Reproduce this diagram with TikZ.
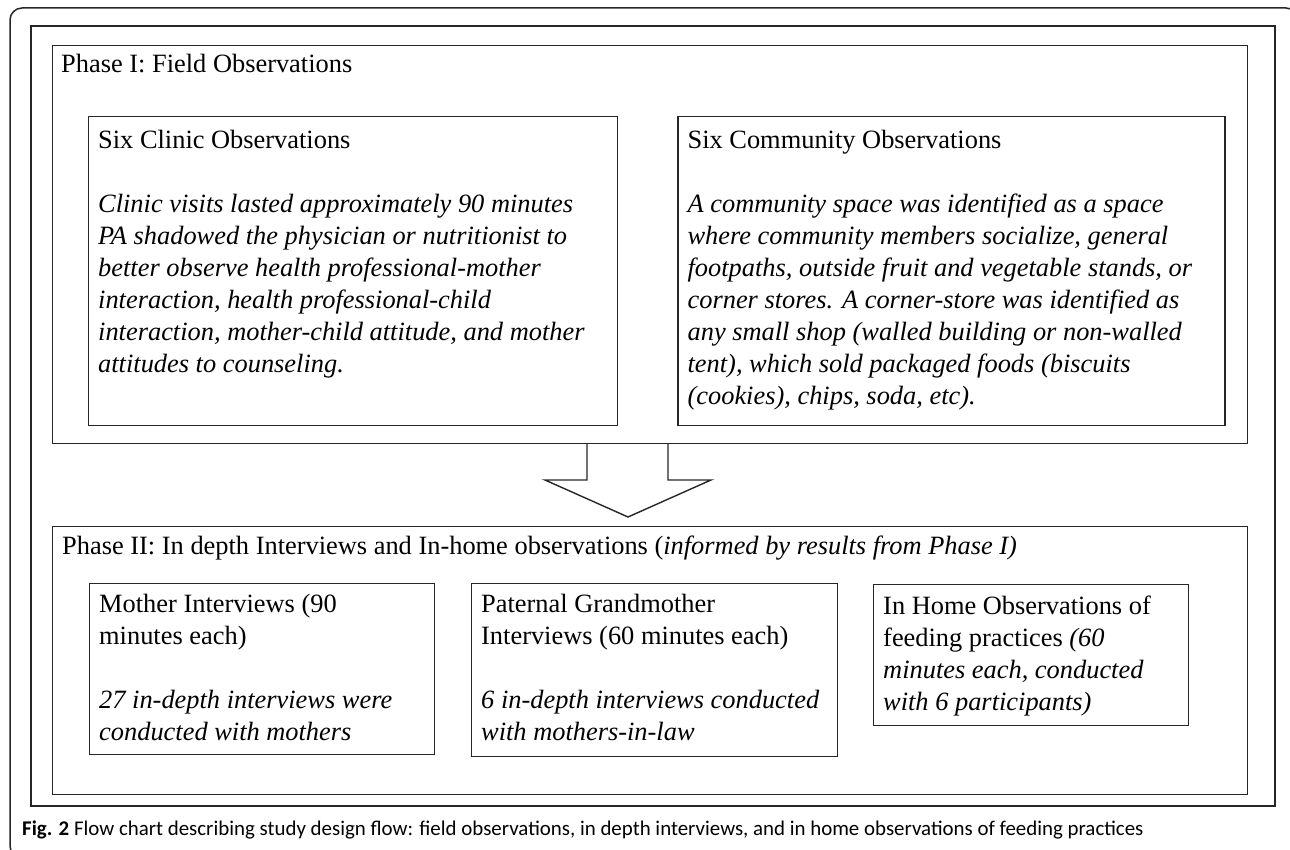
\documentclass[tikz,border=0pt]{standalone}
\usepackage{fontspec}
\setmainfont{Liberation Serif}
\newfontfamily\capfont{Carlito}
\usetikzlibrary{positioning}
\definecolor{ink}{HTML}{262626}

\begin{document}
\begin{tikzpicture}[x=1pt, y=-1pt,
    outer/.style = {draw=ink, line width=2pt, anchor=north west, inner sep=0pt},
    frame/.style = {draw=ink, line width=1.4pt, anchor=north west, inner sep=0pt},
    title/.style = {anchor=base west, inner sep=0pt, font=\fontsize{26.4}{32}\selectfont},
    txt/.style = {anchor=north west, align=left, inner sep=0pt, font=\fontsize{26.4}{32}\selectfont}]
    \useasboundingbox (0,0) rectangle (1290,850);
    \clip (0,0) rectangle (1290,850);
    \draw[ink, line width=1.5pt, rounded corners=12pt] (10,8) rectangle (1298,858);

    \node[outer, minimum width=1244pt, minimum height=780pt] (all) at (30,25) {};

    % phase one
    \node[frame, minimum width=1195pt, minimum height=398pt] (phase1) at (52,45) {};
    \node[title] (p1title) at ([shift={(9,28)}]phase1.north west) {Phase I: Field Observations};

    \node[frame, minimum width=529pt, minimum height=309pt] (clinic) at (88,116) {};
    \node[frame, minimum width=547pt, minimum height=309pt, right=59pt of clinic] (community) {};

    \node[txt] (clinictxt) at ([shift={(10,14)}]clinic.north west) {Six Clinic Observations\\[32pt]
        \itshape Clinic visits lasted approximately 90 minutes\\
        \itshape PA shadowed the physician or nutritionist to\\
        \itshape better observe health professional-mother\\
        \itshape interaction, health professional-child\\
        \itshape interaction, mother-child attitude, and mother\\
        \itshape attitudes to counseling.};
    \node[txt] (communitytxt) at ([shift={(10,14)}]community.north west) {Six Community Observations\\[32pt]
        \itshape A community space was identified as a space\\
        \itshape where community members socialize, general\\
        \itshape footpaths, outside fruit and vegetable stands, or\\
        \itshape corner stores. A corner-store was identified as\\
        \itshape any small shop (walled building or non-walled\\
        \itshape tent), which sold packaged foods (biscuits\\
        \itshape (cookies), chips, soda, etc).};

    % arrow between phases
    \draw[ink, line width=1.4pt] (587,443) |- (545,480) -- (628,517) -- (711,480) -| (668,443);

    % phase two
    \node[frame, minimum width=1195pt, minimum height=268pt] (phase2) at (52,526) {};
    \node[title] (p2title) at ([shift={(10,28)}]phase2.north west) {Phase II: In depth Interviews and In-home observations (\textit{informed by results from Phase I)}};

    \node[frame, minimum width=345pt, minimum height=171pt] (mother) at (89,583) {};
    \node[frame, minimum width=366pt, minimum height=173pt] (grandma) at (471,583) {};
    \node[frame, minimum width=315pt, minimum height=141pt] (inhome) at (873,584) {};

    \node[txt] (mothertxt) at ([shift={(10,11)}]mother.north west) {Mother Interviews (90\\minutes each)\\[32pt]
        \itshape 27 in-depth interviews were\\
        \itshape conducted with mothers};
    \node[txt] (grandmatxt) at ([shift={(10,11)}]grandma.north west) {Paternal Grandmother\\Interviews (60 minutes each)\\[32pt]
        \itshape 6 in-depth interviews conducted\\
        \itshape with mothers-in-law};
    \node[txt] (inhometxt) at ([shift={(10,12)}]inhome.north west) {In Home Observations of\\feeding practices \textit{(60}\\
        \itshape minutes each, conducted\\
        \itshape with 6 participants)};

    % caption
    \node[anchor=base west, inner sep=0pt, font=\capfont\fontsize{20.9}{24}\selectfont] (caption) at (22,835)
        {\textbf{Fig. 2} Flow chart describing study design flow: field observations, in depth interviews, and in home observations of feeding practices};
\end{tikzpicture}
\end{document}
